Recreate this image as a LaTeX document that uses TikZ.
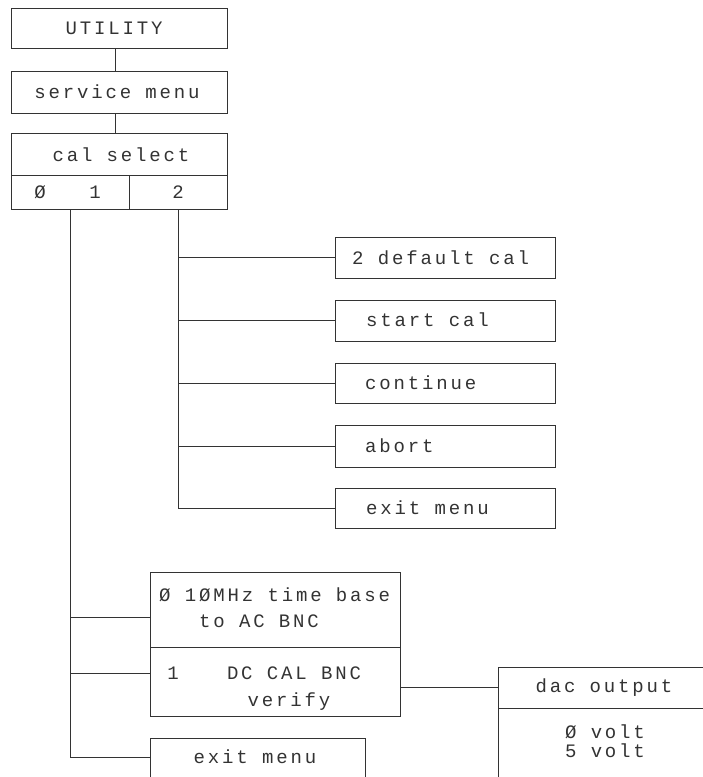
\documentclass[tikz,border=0pt]{standalone}
\usepackage{fontspec}
\setmainfont{Liberation Mono}[LetterSpace=15]
\definecolor{ink}{gray}{0.2}
\begin{document}
\begin{tikzpicture}[x=1pt,y=-1pt,
  box/.style={draw=ink, line width=0.7pt, inner sep=0pt, minimum width=#1},
  wire/.style={draw=ink, line width=0.7pt},
  txt/.style={inner sep=0pt, text=ink, font=\fontsize{19}{22}\selectfont}]
\clip (0,0) rectangle (703,777);
% top column
\node[box=216pt, minimum height=40pt] (util) at (119,28) {};
\node[box=216pt, minimum height=42pt] (serv) at (119,92) {};
\node[box=216pt, minimum height=42pt] (caltop) at (119,154) {};
\node[box=118pt, minimum height=34pt] (cal01) at (70,192) {};
\node[box=98pt, minimum height=34pt] (cal2) at (178,192) {};
\node[txt] (t-util) at (114,28) {UTILITY};
\node[txt] (t-serv) at (117,92) {service menu};
\node[txt] (t-cal) at (121,155) {cal select};
\node[txt] (t-c0) at (40,192) {Ø};
\node[txt] (t-c1) at (95,192) {1};
\node[txt] (t-c2) at (178,192) {2};
% right column
\node[box=220pt, minimum height=41pt] (dflt) at (445,257.5) {};
\node[box=220pt, minimum height=41pt] (start) at (445,320.5) {};
\node[box=220pt, minimum height=40pt] (cont) at (445,383) {};
\node[box=220pt, minimum height=42pt] (abort) at (445,446) {};
\node[box=220pt, minimum height=40pt] (exitA) at (445,508) {};
\node[txt, anchor=west] (t-dflt) at (352,258) {2 default cal};
\node[txt, anchor=west] (t-start) at (366,320) {start cal};
\node[txt, anchor=west] (t-cont) at (365,383) {continue};
\node[txt, anchor=west] (t-abort) at (365,446) {abort};
\node[txt, anchor=west] (t-exitA) at (366,508) {exit menu};
% middle column
\node[box=250pt, minimum height=75pt] (tb) at (275,609.5) {};
\node[box=250pt, minimum height=69pt] (dc) at (275,681.5) {};
\node[box=215pt, minimum height=62pt] (exitB) at (257.5,769) {};
\node[txt, anchor=west] (t-tb1) at (159,595) {Ø 1ØMHz time base};
\node[txt] (t-tb2) at (259,621) {to AC BNC};
\node[txt] (t-dc0) at (173,673) {1};
\node[txt] (t-dc1) at (294,673) {DC CAL BNC};
\node[txt] (t-dc2) at (289,702) {verify};
\node[txt] (t-exitB) at (255,757) {exit menu};
% dac output
\node[box=222pt, minimum height=41pt] (dac) at (609,687.5) {};
\node[box=222pt, minimum height=92pt] (dacv) at (609,754) {};
\node[txt] (t-dac) at (604,688) {dac output};
\node[txt] (t-v0) at (605,732) {Ø volt};
\node[txt] (t-v5) at (605,751) {5 volt};
% connectors
\coordinate (ux) at (115,0);
\draw[wire] (util.south -| ux) -- (serv.north -| ux);
\draw[wire] (serv.south -| ux) -- (caltop.north -| ux);
\draw[wire] (cal2.south) -- (cal2.south |- exitA.west) -- (exitA.west);
\draw[wire] (cal2.south |- dflt.west) -- (dflt.west);
\draw[wire] (cal2.south |- start.west) -- (start.west);
\draw[wire] (cal2.south |- cont.west) -- (cont.west);
\draw[wire] (cal2.south |- abort.west) -- (abort.west);
\coordinate (eB) at ([yshift=12pt]exitB.west);
\coordinate (tbw) at ([yshift=-7.5pt]tb.west);
\coordinate (dcw) at ([yshift=8.5pt]dc.west);
\draw[wire] (cal01.south) -- (cal01.south |- eB) -- (eB);
\draw[wire] (cal01.south |- tbw) -- (tbw);
\draw[wire] (cal01.south |- dcw) -- (dcw);
\draw[wire] (dc.east |- dac.west) -- (dac.west);
\end{tikzpicture}
\end{document}
